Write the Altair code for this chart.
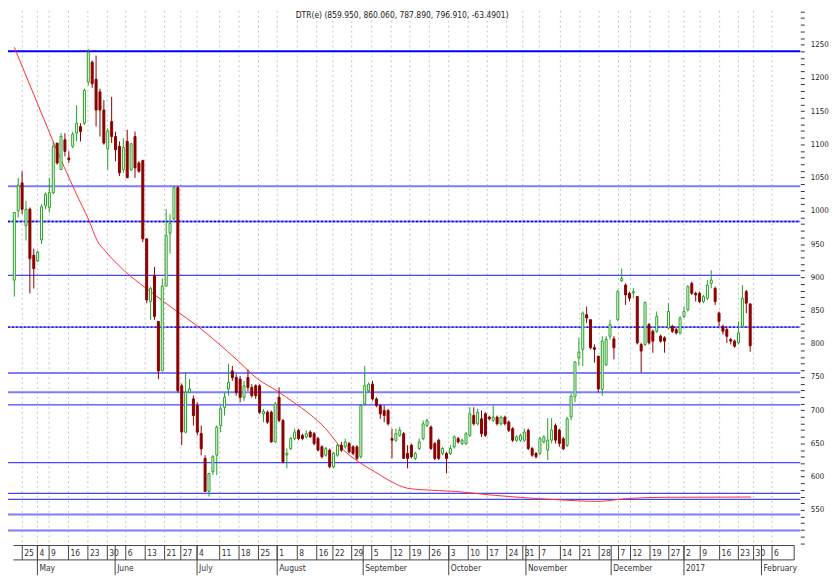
import altair as alt
import pandas as pd

# ---------------- data ----------------
opens = [895.7, 1000, 1042, 977.7, 1002.5, 933, 924.5, 956.3, 1007.5, 1005,
         1027.4, 1101.9, 1062, 1106.8, 1079.5, 1097, 1116.8, 1126.7, 1131.7, 1193.8,
         1223.6, 1197.8, 1178.9, 1151.6, 1093.4, 1134.2, 1111.8, 1097, 1062.1, 1104.4,
         1062, 1111.8, 1072, 1075.5, 957.8, 863.4, 903.1, 833.6, 759.1, 886.8,
         966.3, 987.6, 1034.8, 736.7, 667, 727, 717, 707, 665, 627.5,
         578, 607.6, 632.4, 677, 704.5, 731.8, 759, 749.2, 746.7, 719.4,
         749.2, 734.3, 736.8, 736.8, 694.5, 697, 697, 652.3, 719.4, 684.6,
         632.5, 642.4, 657.3, 669.7, 662.2, 659.8, 667.2, 664.7, 657.3, 644.9,
         632.4, 639.9, 615, 632.4, 647.4, 644.9, 649.8, 644.9, 644.9, 630,
         709.4, 729.3, 739.2, 716.9, 707, 699.5, 699.5, 657.3, 654.8, 662.2,
         664.7, 634.9, 647.4, 627.5, 642.4, 657.3, 677.1, 674.7, 649.8, 654.8,
         634.9, 634.9, 634.9, 644.9, 657.3, 649.8, 649.8, 662.2, 692, 679.6,
         687.1, 694.5, 689.6, 684.6, 689.6, 679.6, 689.6, 682.1, 672.2, 654.8,
         654.8, 654.8, 669.7, 642.4, 634.9, 635, 652.3, 640, 655, 677,
         670, 657, 647, 690, 720, 779, 791.5, 843.6, 836.2, 794,
         781.5, 731.4, 768.5, 811.3, 807.4, 836.2, 894.8, 888.3, 875.9, 876.4,
         871, 798.9, 798.9, 828.7, 818.8, 818.8, 811.3, 808.9, 823.8, 826.2,
         821.3, 816.3, 841.1, 851, 890.8, 875.9, 875.9, 863.5, 868.5, 890.8,
         883.4, 846.1, 826.2, 821.3, 806.4, 803.9, 801.4, 826.2, 878.4, 859.95]
highs = [997.5, 1049.7, 1059.6, 1015, 1005, 943, 940, 1010, 1027.4, 1049.7,
         1104.4, 1101.9, 1116.8, 1116.8, 1089.5, 1119, 1159, 1131.7, 1183.8, 1243.5,
         1226, 1233.5, 1183.8, 1166.5, 1124.2, 1171.4, 1119, 1104.4, 1109.3, 1121.8,
         1101.9, 1119.3, 1074.5, 1077, 957.8, 885.8, 915.6, 833.6, 898.2, 1002.5,
         995, 1037.3, 1037.3, 740, 757, 747, 722, 712, 677, 632.4,
         605, 632.4, 677, 707, 726.8, 770, 766.6, 754, 751.7, 744,
         761, 739, 739, 739, 702, 699.5, 699.5, 712, 734.3, 687,
         642.4, 659.8, 672.2, 672.2, 664.7, 669.7, 669.7, 667.2, 659.8, 647.4,
         644.9, 642.4, 637.4, 649.8, 652.3, 657.3, 652.3, 647.4, 647.4, 709.4,
         766.6, 741.7, 744.2, 719.4, 709.4, 707, 702, 672.2, 672.2, 674.7,
         667.2, 647.4, 649.8, 637.4, 657.3, 684.6, 687.1, 677.1, 652.3, 657.3,
         644.9, 637.4, 647.4, 662.2, 659.8, 657.3, 667.2, 704.5, 704.5, 702,
         699.5, 697, 692, 707, 692, 692, 692, 684.6, 674.7, 662.2,
         664.7, 672.2, 672.2, 644.9, 637.4, 660, 662.2, 688, 688, 680,
         672, 660, 690, 725, 774, 808.9, 848.6, 856, 836.2, 798.9,
         781.5, 811.3, 811.3, 836.2, 811.3, 880.9, 913.2, 890.8, 878.4, 883.4,
         871, 801.4, 863.5, 831.2, 821.3, 848.6, 813.8, 811.3, 861, 828.7,
         823.8, 841.1, 856, 888.3, 893.3, 878.4, 878.4, 873.4, 895.8, 910.7,
         885.9, 848.6, 828.7, 823.8, 808.9, 806.4, 833.7, 888.3, 880.9, 860.06]
lows = [870.9, 990, 995, 955.3, 875.8, 883, 923, 950, 1002.5, 997.5,
        1025, 1069.6, 1062, 1082, 1072, 1094.5, 1104.4, 1104.4, 1129.2, 1188.8,
        1185, 1126.7, 1111.8, 1099.4, 1062, 1101.9, 1074.5, 1052.2, 1057.2, 1049.7,
        1059.6, 1049.7, 1057.2, 952.8, 860.9, 836.1, 836.1, 746.7, 759.1, 885.8,
        935.5, 985.1, 726.8, 647.3, 665, 726, 677, 662, 632, 577.8,
        570, 602.6, 602.6, 667, 692, 721.9, 744.2, 721.9, 712, 714,
        729, 719, 716.9, 694.5, 682, 679.6, 651.3, 651.3, 682, 620,
        612.6, 639.9, 654.8, 654.8, 654.8, 657.3, 658.3, 647.3, 638.4, 627.5,
        630, 612.6, 612.6, 630, 637.4, 642.4, 634.9, 632.4, 625, 627.5,
        706.9, 726.8, 714.4, 704.5, 687, 682, 677, 627.5, 652.3, 659.8,
        627.5, 612.6, 627.5, 625, 639.9, 654.8, 674.7, 639.9, 625, 625,
        632.4, 605.1, 632.4, 642.4, 649.8, 647.4, 647.4, 659.8, 677.1, 677.1,
        659.8, 659.8, 684.6, 682, 677.1, 677.1, 677.1, 667.2, 652.3, 652.3,
        652.3, 652.3, 639.9, 630, 627.5, 632, 650, 625, 650, 650,
        645, 640, 645, 685, 712, 766.6, 766.6, 831.2, 791.5, 771.6,
        726.9, 721.9, 766.6, 806.4, 776.6, 833.7, 893.3, 858.5, 863.5, 868.5,
        798.9, 756.7, 796.4, 798.9, 786.5, 816.3, 801.4, 786.5, 821.3, 816.3,
        813.8, 813.8, 838.7, 848.6, 873.4, 863.5, 861, 861, 866, 883.4,
        858.5, 826.2, 813.8, 801.4, 798.9, 793.9, 798.9, 823.8, 846.1, 787.89]
closes = [997.5, 1038.8, 1002.5, 1002.5, 928, 913, 937.9, 1006, 1025, 1027.4,
          1097, 1072, 1111.8, 1089.5, 1077, 1115.3, 1131.7, 1119.3, 1181.4, 1238.5,
          1191.3, 1151.6, 1151.6, 1101.9, 1120.3, 1111.8, 1092, 1057.2, 1095.4, 1049.7,
          1100.9, 1064.6, 1059.6, 957.8, 865.9, 883.3, 841.1, 759.1, 886.8, 962.8,
          981.2, 1034.8, 729.3, 667.3, 727, 732, 692, 667, 642, 577.8,
          605, 630, 674.7, 702, 719.4, 741.7, 749, 726.8, 719.4, 736.8,
          734.3, 721.9, 721.9, 697, 698, 682, 652.3, 709.4, 684.6, 622.5,
          635, 657.3, 667.2, 657.3, 657.3, 664.7, 659.8, 649.8, 639.9, 630,
          642.4, 615, 635, 647.4, 639.9, 652.3, 637.4, 634.9, 627.5, 706.9,
          736.8, 739.2, 716.9, 707, 694.5, 692, 679.6, 654.8, 664.7, 669.7,
          627.5, 627.5, 630, 634.9, 652.3, 679.6, 684.6, 642.4, 627.5, 627.5,
          642.4, 627.5, 642.4, 659.8, 652.3, 654.8, 664.7, 694.5, 679.6, 697,
          664.7, 662.2, 687.1, 689.6, 679.6, 689.6, 679.6, 669.7, 654.8, 659.8,
          662.2, 667.2, 642.4, 632.4, 630, 657.3, 659.8, 655, 670, 655,
          650, 642, 687, 721, 772.6, 787.5, 846, 838.7, 794, 791.5,
          731.9, 803.9, 806.4, 828.7, 794, 878.4, 898.3, 873.4, 868.5, 878.4,
          801.4, 789, 862, 801.4, 803.9, 841.1, 803.9, 803.9, 848.6, 818.8,
          816.3, 838.7, 848.6, 885.9, 875.9, 873.4, 863.5, 871, 888.3, 895.8,
          863.5, 833.7, 818.8, 811.3, 803.9, 796.4, 816.3, 868.5, 861, 796.91]

ma_slots = [0, 5, 10, 15.8, 19.2, 21.3, 23.3, 30, 34.2, 41.7, 46.7, 57.5, 62.5,
            67.5, 71.7, 75.8, 80, 84.2, 88.4, 92.5, 96.8, 100.9, 105, 113.4,
            121.7, 130, 139.2, 150, 157, 165.8, 189.2]
ma_values = [1246, 1175, 1104, 1027, 985, 955, 940, 901, 882, 849, 828, 774, 747,
             729, 712, 694.5, 672, 642, 622.5, 607.6, 592.7, 582.7, 580.3, 577.8,
             572.8, 568.8, 565.4, 562.9, 566.9, 568.9, 569.4]

week_slots = [2.04, 5.93, 8.93, 13.91, 18.9, 23.89, 28.62, 33.61, 38.6, 42.76,
              46.93, 52.74, 57.72, 62.71, 67.52, 72.68, 77.67, 81.83, 86.65, 91.81,
              96.79, 101.6, 106.6, 111.58, 116.57, 121.48, 126.47, 130.6, 134.84, 140.25,
              145.24, 150.2, 155.19, 158.26, 163.27, 168.1, 171.99, 176.16, 181.15, 185.96,
              189.88, 194.62]
week_labels = ["25", "4", "9", "16", "23", "30", "6", "13", "21", "27",
               "4", "11", "18", "25", "1", "8", "16", "22", "29", "5",
               "12", "19", "26", "3", "10", "17", "24", "31", "7", "14",
               "21", "28", "7", "12", "19", "27", "2", "9", "16", "23",
               "30", "6"]
month_slots = [5.93, 25.9, 46.93, 67.52, 89.6, 111.58, 131.4, 153.3, 171.99, 191.9]
month_labels = ["May", "June", "July", "August", "September", "October",
                "November", "December", "2017", "February"]

strong_levels = [1240]
soft_levels = [1037, 756, 727, 543, 519]
thin_levels = [903, 708, 621, 575, 566]
dotted_levels = [984, 825]

axis_span = [-0.2, 200.3]
y_ticks = list(range(500, 1301, 10))
title_text = "DTR(e) (859.950, 860.060, 787.890, 796.910, -63.4901)"

# ---------------- chart ----------------
W, H = 800, 540
FONT = "DejaVu Sans Condensed, Liberation Sans, sans-serif"
GREEN = "#22a022"
RED = "#8b0000"

candles = pd.DataFrame({"slot": list(range(len(opens))), "open": opens,
                        "high": highs, "low": lows, "close": closes})
candles["dir"] = ["up" if c >= o else "down" for o, c in zip(opens, closes)]

xs = alt.Scale(domain=[-0.35, 200.6], nice=False, zero=False)
ys = alt.Scale(domain=[496.4, 1301], nice=False, zero=False)
yaxis = alt.Axis(orient="right", values=y_ticks, format="d",
                 labelExpr="(datum.value % 50 == 0 && datum.value >= 550 && datum.value <= 1250) ? datum.label : ''",
                 tickSize=4, tickColor="#333333", domain=False, grid=False,
                 labelPadding=6, labelFont=FONT, labelFontSize=8, labelColor="#222222",
                 title=None)


def XQ(field="slot"):
    return alt.X(f"{field}:Q", scale=xs, axis=None)


def YQ(field):
    return alt.Y(f"{field}:Q", scale=ys, axis=yaxis)


up = "datum.dir == 'up'"

grid = alt.Chart(pd.DataFrame({"slot": week_slots})).mark_rule(
    color="#c4c4c4", strokeDash=[2, 3], strokeWidth=1
).encode(x=XQ(), y=alt.value(0), y2=alt.value(H))


def hlines(levels, color, width, dash=None):
    kw = dict(color=color, strokeWidth=width)
    if dash:
        kw["strokeDash"] = dash
    return alt.Chart(pd.DataFrame({"level": levels})).mark_rule(**kw).encode(
        y=YQ("level"), x=alt.value(0), x2=alt.value(W))


lv_soft = hlines(soft_levels, "#7d7dff", 2)
lv_thin = hlines(thin_levels, "#4646ff", 1.3)
lv_strong = hlines(strong_levels, "#0000ff", 2)
lv_dot_bg = hlines(dotted_levels, "#8c8cff", 2)
lv_dot_fg = hlines(dotted_levels, "#0000d0", 1.5, [2, 2])

ma = alt.Chart(pd.DataFrame({"slot": ma_slots, "ma": ma_values})).mark_line(
    color="#ff3030", strokeWidth=1, interpolate="monotone"
).encode(x=XQ(), y=YQ("ma"))

wicks = alt.Chart(candles).mark_rule(strokeWidth=1).encode(
    x=XQ(), y=YQ("low"), y2="high",
    color=alt.condition(up, alt.value(GREEN), alt.value(RED)))

bodies = alt.Chart(candles).mark_bar(size=2, strokeWidth=1).encode(
    x=XQ(), y=YQ("open"), y2="close",
    fill=alt.condition(up, alt.value("white"), alt.value(RED)),
    stroke=alt.condition(up, alt.value(GREEN), alt.value(RED)))

# bottom date axis (two rows)
span_df = pd.DataFrame({"a": [axis_span[0]], "b": [axis_span[1]]})
row_top = alt.Chart(span_df).mark_rule(color="#444444", strokeWidth=1).encode(
    x=alt.X("a:Q", scale=xs, axis=None), x2="b", y=alt.value(H))
row_mid = alt.Chart(span_df).mark_rule(color="#444444", strokeWidth=1).encode(
    x=alt.X("a:Q", scale=xs, axis=None), x2="b", y=alt.value(H + 14.5))
end_tick = alt.Chart(span_df).mark_rule(color="#444444", strokeWidth=1).encode(
    x=alt.X("b:Q", scale=xs, axis=None), y=alt.value(H), y2=alt.value(H + 14.5))

week_df = pd.DataFrame({"slot": week_slots, "lab": week_labels})
day_sep = alt.Chart(week_df).mark_rule(color="#444444", strokeWidth=1).encode(
    x=XQ(), y=alt.value(H), y2=alt.value(H + 14.5))
day_txt = alt.Chart(week_df).mark_text(
    align="left", baseline="middle", dx=2, font=FONT, fontSize=8.5, color="#333333"
).encode(x=XQ(), y=alt.value(H + 7.5), text="lab:N")

month_df = pd.DataFrame({"slot": month_slots, "lab": month_labels})
month_sep = alt.Chart(month_df).mark_rule(color="#444444", strokeWidth=1).encode(
    x=XQ(), y=alt.value(H), y2=alt.value(H + 30))
month_txt = alt.Chart(month_df).mark_text(
    align="left", baseline="middle", dx=2, font=FONT, fontSize=8.5, color="#333333"
).encode(x=XQ(), y=alt.value(H + 23), text="lab:N")

title = alt.Chart(pd.DataFrame({"t": [title_text]})).mark_text(
    align="center", baseline="top", font=FONT, fontSize=8.5, color="#222222"
).encode(x=alt.value(398), y=alt.value(0), text="t:N")

chart = alt.layer(
    grid, lv_soft, lv_thin, lv_strong, lv_dot_bg, lv_dot_fg, ma, wicks, bodies,
    row_top, row_mid, end_tick, day_sep, day_txt, month_sep, month_txt, title
).properties(
    width=W, height=H, background="white",
    autosize=alt.AutoSizeParams(type="none"),
    padding={"left": 0, "top": 0, "right": 31, "bottom": 30},
).configure_view(stroke=None)

chart.save("out.html", embed_options={"renderer": "svg", "actions": False})
